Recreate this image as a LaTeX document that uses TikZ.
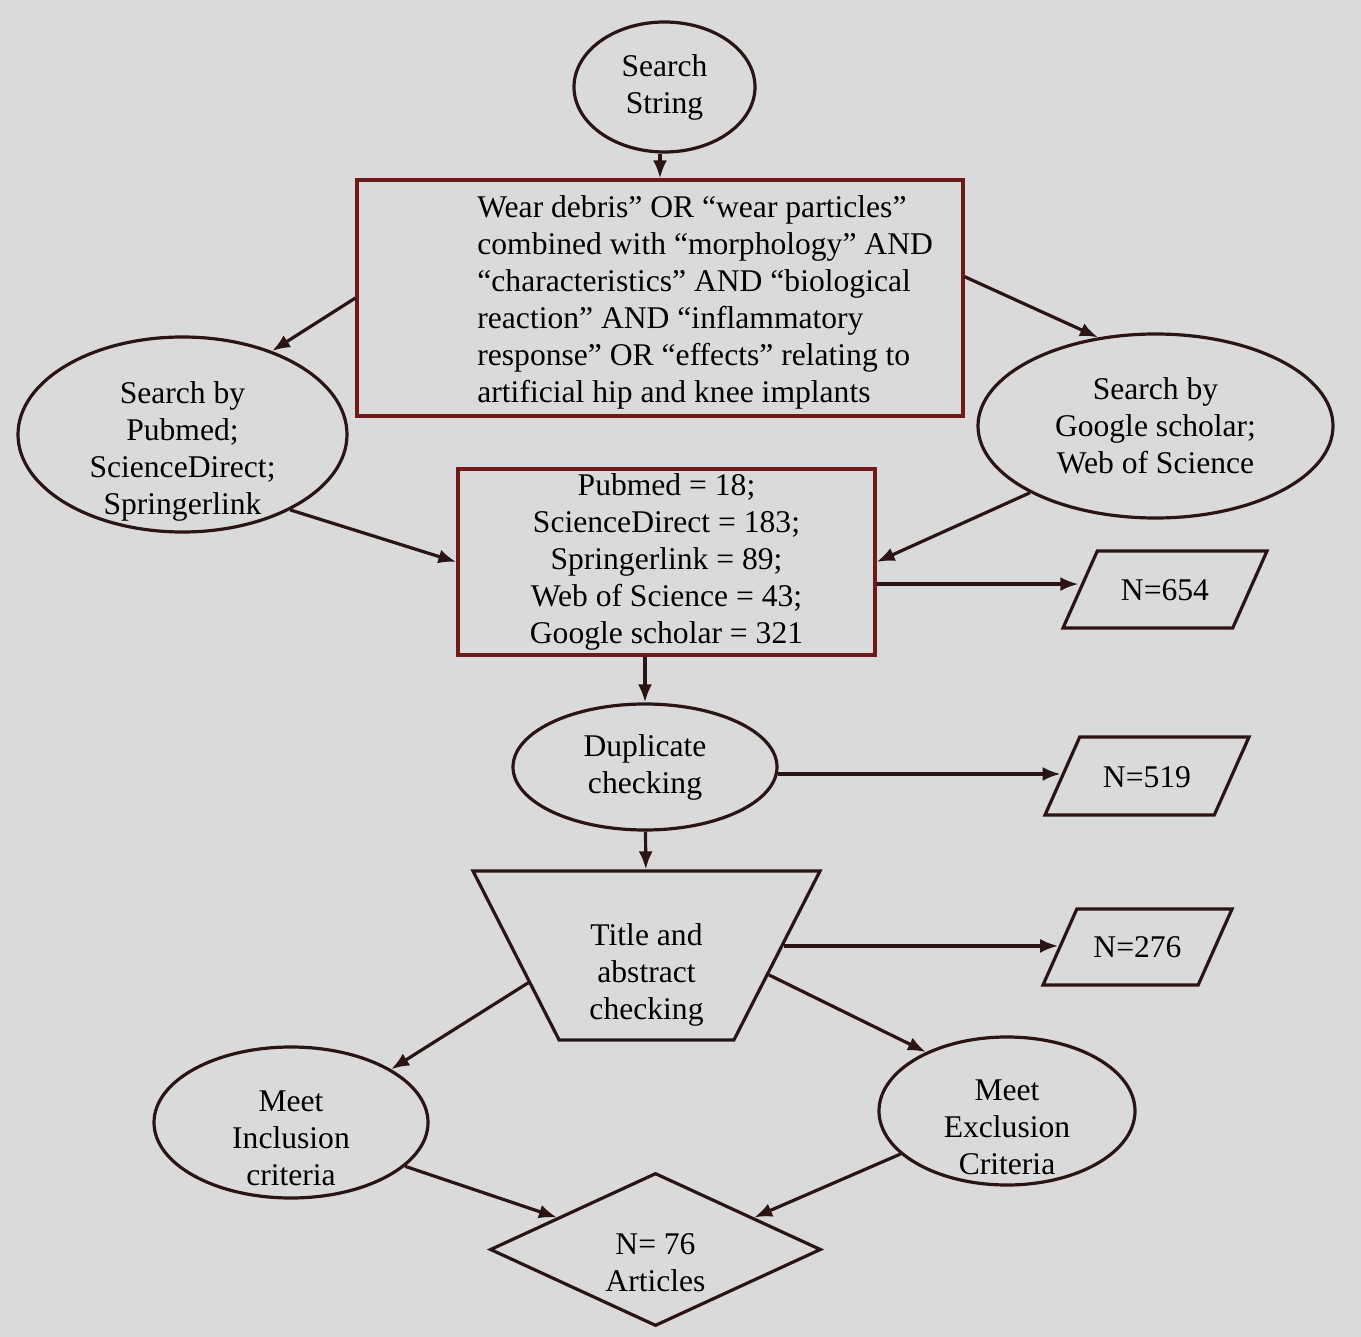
\documentclass[tikz,border=0pt]{standalone}
\usepackage{fontspec}
\setmainfont{Liberation Serif}
\usetikzlibrary{shapes.geometric,arrows.meta,calc}

\definecolor{bggray}{HTML}{DADADA}
\definecolor{boxred}{HTML}{6E1A1A}
\definecolor{inkdark}{HTML}{2A1414}

\begin{document}
\begin{tikzpicture}[x=0.5pt,y=-0.5pt,
  every node/.style={font=\fontsize{15.8}{18.5}\selectfont},
  oval/.style={ellipse, draw=inkdark, line width=1.6pt, inner sep=0pt},
  redbox/.style={rectangle, draw=boxred, line width=1.6pt, inner sep=0pt},
  slantbox/.style={trapezium, trapezium left angle=66, trapezium right angle=114,
    trapezium stretches body, draw=inkdark, line width=1.6pt, inner sep=0pt, text depth=14pt},
  arr/.style={draw=inkdark, line width=1.6pt, -{Latex[length=9pt,width=7pt]}}]

% Background
\fill[bggray] (0,0) rectangle (1361,1337);

% Search string
\node[oval, minimum width=90.5pt, minimum height=65pt, align=center] (search) at (664.5,87) {Search\\String};

% Query box
\node[redbox, minimum width=303pt, minimum height=118pt] (query) at (660,298) {};
\node[anchor=west, align=left, inner sep=0pt] (querytext) at (477,302) {Wear debris” OR “wear particles”\\combined with “morphology” AND\\“characteristics” AND “biological\\reaction” AND “inflammatory\\response” OR “effects” relating to\\artificial hip and knee implants};

% Database searches
\node[oval, minimum width=164.5pt, minimum height=97.5pt] (pub) at (182.5,434.5) {};
\node[align=center, inner sep=0pt] (pubtext) at (182.5,451) {Search by\\Pubmed;\\ScienceDirect;\\Springerlink};
\node[oval, minimum width=177.5pt, minimum height=92pt, align=center] (google) at (1155.5,426) {Search by\\Google scholar;\\Web of Science};

% Hits per database
\node[redbox, minimum width=208.5pt, minimum height=93pt, align=center] (counts) at (666.5,562) {Pubmed = 18;\\ScienceDirect = 183;\\Springerlink = 89;\\Web of Science = 43;\\Google scholar = 321};
\node[slantbox, text height=24.5pt, minimum width=102pt] (n654) at (1165,589.5) {N=654};

% Duplicates
\node[oval, minimum width=132pt, minimum height=63pt, align=center] (dup) at (645,767) {Duplicate\\checking};
\node[slantbox, text height=25pt, minimum width=102pt] (n519) at (1147,776) {N=519};

% Title and abstract
\node[trapezium, trapezium left angle=117, trapezium right angle=117, trapezium stretches body,
  draw=inkdark, line width=1.6pt, minimum width=173.5pt, text height=84.5pt, inner sep=0pt] (trap) at (646.5,955.5) {};
\node[align=center, inner sep=0pt] (traptext) at (646.5,975) {Title and\\abstract\\checking};
\node[slantbox, text height=24pt, minimum width=94.5pt] (n276) at (1137.5,947) {N=276};

% Inclusion / exclusion
\node[oval, minimum width=137pt, minimum height=75.5pt] (incl) at (291,1122.5) {};
\node[align=center, inner sep=0pt] (incltext) at (291,1138) {Meet\\Inclusion\\criteria};
\node[oval, minimum width=128pt, minimum height=74pt] (excl) at (1007,1111) {};
\node[align=center, inner sep=0pt] (excltext) at (1007,1127) {Meet\\Exclusion\\Criteria};

% Result
\node[diamond, draw=inkdark, line width=1.6pt, minimum width=165.5pt, minimum height=76.5pt, inner sep=0pt] (res) at (655.5,1249.5) {};
\node[align=center, inner sep=0pt] (restext) at (655.5,1263) {N= 76\\Articles};

% Arrows
\draw[arr] (search.south -| query.north) -- (query.north);
\draw[arr] (query.west) -- (pub.43);
\draw[arr] (query.4) -- (google.123);
\draw[arr] (pub.-35) -- (counts.west);
\draw[arr] (google.208) -- (counts.east);
\draw[arr] (counts.-6) -- (counts.-6 -| n654.west);
\draw[arr] (dup.north |- counts.south) -- (dup.north);
\draw[arr] (dup.-3) -- (dup.-3 -| n519.west);
\draw[arr] (dup) -- (trap);
\draw[arr] (trap.4) -- (trap.4 -| n276.west);
\draw[arr] (trap.193) -- (incl.28);
\draw[arr] (trap.-9) -- (excl.144);
\draw[arr] (incl.-21) -- (res.162);
\draw[arr] (excl.202) -- (res.18);

\end{tikzpicture}
\end{document}
